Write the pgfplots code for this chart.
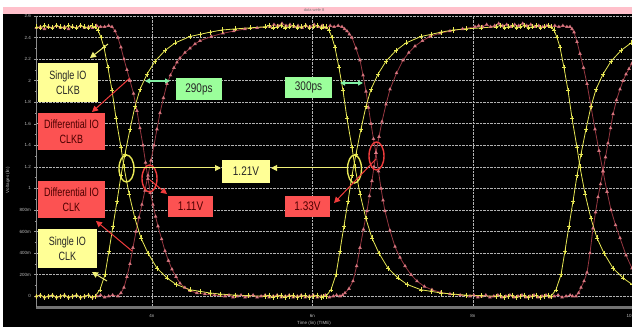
\documentclass[border=0pt]{standalone}
\usepackage{fontspec}
\setmainfont{Liberation Sans}
\newfontfamily\narrowfont[FakeStretch=0.75]{Liberation Sans}
\newfontfamily\numfont[FakeStretch=0.8]{Liberation Sans}
\usepackage{pgfplots}
\pgfplotsset{compat=1.18}
\usetikzlibrary{arrows.meta}

\definecolor{ylw}{RGB}{232,232,85}
\definecolor{redline}{RGB}{150,55,65}
\definecolor{redmark}{RGB}{225,125,135}
\definecolor{boxyel}{RGB}{255,255,150}
\definecolor{boxred}{RGB}{252,82,82}
\definecolor{boxgreen}{RGB}{155,255,155}
\definecolor{arrgreen}{RGB}{130,240,165}
\definecolor{arrred}{RGB}{240,60,60}
\definecolor{arryel}{RGB}{240,240,120}
\definecolor{pinkbar}{RGB}{255,192,203}
\definecolor{ticktext}{RGB}{190,190,190}

\begin{document}
\begin{tikzpicture}
% frame: white page, black scope area, pink title strip
\fill[white] (0pt,0pt) rectangle (632pt,327pt);
\fill[black] (3pt,0pt) rectangle (632pt,313pt);
\fill[pinkbar] (3pt,313pt) rectangle (632pt,320pt);
\node[font=\fontsize{4}{4}\selectfont, text=black!55] at (314pt,316.5pt) {data wele 8};

\begin{axis}[
  at={(36pt,20pt)}, anchor=south west, scale only axis,
  width=597.5pt, height=291pt,
  xmin=2.555, xmax=10.0, ymin=-0.1, ymax=2.6,
  separate axis lines,
  axis x line*=bottom, axis y line*=left,
  x axis line style={line width=3pt, black!55},
  y axis line style={line width=0.5pt, black!45},
  xtick={4,6,8,10}, xticklabels={4n,6n,8n,\makebox[0pt][r]{10\hspace{2pt}}},
  ytick={0,0.2,0.4,0.6,0.8,1,1.2,1.4,1.6,1.8,2,2.2,2.4,2.6},
  yticklabels={0,200m,400m,600m,800m,1,1.2,1.4,1.6,1.8,2,2.2,2.4,2.6},
  minor x tick num=7, minor y tick num=1,
  tick align=outside, major tick length=2pt, minor tick length=1.5pt,
  tick style={black!40, line width=0.4pt},
  ticklabel style={font=\fontsize{4.5}{5}\selectfont, text=ticktext},
  xticklabel style={anchor=center, yshift=-7pt},
  yticklabel style={anchor=east, inner sep=0pt, xshift=-3pt},
  grid=major,
  major grid style={densely dotted, black!30!white, line width=0.6pt},
  clip=true,
]
% Differential IO CLKB
\addplot[redline, line width=0.8pt, mark=triangle*, mark size=1.4pt,
  mark options={fill=redmark, draw=redmark, opacity=0.8}] coordinates {
(2.56,2.49)(2.61,2.50)(2.66,2.48)(2.71,2.50)(2.76,2.49)(2.81,2.51)(2.86,2.49)(2.91,2.50)(2.96,2.48)(3.01,2.50)(3.06,2.49)(3.11,2.51)(3.16,2.49)(3.21,2.50)(3.26,2.49)(3.31,2.51)(3.36,2.50)(3.41,2.50)(3.46,2.51)
(3.502,2.50)(3.540,2.46)(3.576,2.40)(3.613,2.31)(3.651,2.20)(3.688,2.10)(3.726,2.00)(3.770,1.88)(3.813,1.72)(3.850,1.56)(3.888,1.40)(3.920,1.24)(3.950,1.09)(3.980,0.96)(4.012,0.85)(4.045,0.74)(4.075,0.65)(4.120,0.53)(4.162,0.42)(4.205,0.33)(4.249,0.25)(4.300,0.18)(4.349,0.12)(4.410,0.08)(4.474,0.05)(4.560,0.03)(4.660,0.02)(4.780,0.01)(4.910,0.00)
(4.96,0.01)(5.01,-0.01)(5.06,0.00)(5.11,0.01)(5.16,-0.01)(5.21,0.00)(5.26,0.01)(5.31,-0.01)(5.36,0.00)(5.41,0.01)(5.46,-0.01)(5.51,0.00)(5.56,0.01)(5.61,-0.01)(5.66,0.00)(5.71,0.01)(5.76,-0.01)(5.81,0.00)(5.86,0.01)(5.91,-0.01)(5.96,0.00)(6.01,0.01)(6.06,-0.01)(6.11,0.00)(6.16,0.01)(6.21,-0.01)(6.26,0.00)(6.30,0.01)
(6.343,0.00)(6.375,0.01)(6.405,0.03)(6.455,0.07)(6.505,0.14)(6.550,0.28)(6.592,0.45)(6.635,0.62)(6.679,0.79)(6.710,0.93)(6.741,1.07)(6.766,1.20)(6.791,1.33)(6.829,1.48)(6.866,1.62)(6.916,1.78)(6.966,1.92)(7.047,2.07)(7.128,2.19)(7.200,2.26)(7.277,2.32)(7.370,2.37)(7.464,2.41)(7.590,2.44)(7.713,2.46)(7.870,2.48)(8.025,2.50)
(8.07,2.51)(8.12,2.50)(8.17,2.52)(8.22,2.50)(8.27,2.51)(8.32,2.53)(8.37,2.51)(8.42,2.52)(8.47,2.50)(8.52,2.52)(8.57,2.51)(8.62,2.53)(8.67,2.51)(8.72,2.52)(8.77,2.50)(8.82,2.51)(8.87,2.50)(8.92,2.51)(8.97,2.50)(9.02,2.51)(9.07,2.50)(9.12,2.51)(9.17,2.50)
(9.209,2.50)(9.234,2.48)(9.259,2.45)(9.296,2.36)(9.333,2.25)(9.377,2.12)(9.421,1.97)(9.470,1.76)(9.520,1.55)(9.570,1.35)(9.620,1.16)(9.670,0.97)(9.720,0.80)(9.776,0.66)(9.832,0.54)(9.907,0.38)(9.981,0.26)(10.0,0.24)
};
% Differential IO CLK
\addplot[redline, line width=0.8pt, mark=triangle*, mark size=1.4pt,
  mark options={fill=redmark, draw=redmark, opacity=0.8}] coordinates {
(2.56,0.00)(2.61,0.01)(2.66,-0.01)(2.71,0.00)(2.76,0.01)(2.81,-0.01)(2.86,0.00)(2.91,0.01)(2.96,-0.01)(3.01,0.00)(3.06,0.01)(3.11,-0.01)(3.16,0.00)(3.21,0.01)(3.26,-0.01)(3.31,0.00)(3.36,0.01)(3.41,-0.01)(3.46,0.00)(3.51,0.01)
(3.576,0.00)(3.613,0.03)(3.651,0.08)(3.688,0.18)(3.726,0.30)(3.763,0.45)(3.801,0.60)(3.838,0.73)(3.875,0.85)(3.912,0.98)(3.950,1.12)(3.988,1.26)(4.025,1.40)(4.062,1.55)(4.100,1.70)(4.143,1.84)(4.187,1.97)(4.230,2.05)(4.274,2.12)(4.311,2.17)(4.349,2.21)(4.411,2.26)(4.474,2.30)(4.536,2.34)(4.598,2.37)(4.740,2.41)(4.885,2.44)(5.020,2.46)(5.159,2.48)(5.310,2.49)(5.470,2.50)
(5.52,2.52)(5.57,2.51)(5.62,2.53)(5.67,2.51)(5.72,2.52)(5.77,2.50)(5.82,2.51)(5.87,2.49)(5.92,2.51)(5.97,2.50)(6.02,2.52)(6.07,2.50)(6.12,2.51)(6.17,2.49)(6.22,2.51)(6.27,2.50)(6.32,2.51)
(6.368,2.50)(6.400,2.48)(6.430,2.46)(6.460,2.43)(6.492,2.40)(6.542,2.30)(6.592,2.19)(6.630,2.05)(6.667,1.90)(6.698,1.75)(6.729,1.60)(6.760,1.46)(6.791,1.33)(6.822,1.16)(6.854,1.00)(6.879,0.89)(6.903,0.79)(6.965,0.61)(7.028,0.46)(7.090,0.36)(7.153,0.28)(7.228,0.20)(7.302,0.14)(7.395,0.09)(7.489,0.06)(7.600,0.035)(7.713,0.02)(7.840,0.01)(7.963,0.00)
(8.01,0.01)(8.06,-0.01)(8.11,0.00)(8.16,0.01)(8.21,-0.01)(8.26,0.00)(8.31,0.01)(8.36,-0.01)(8.41,0.00)(8.46,0.01)(8.51,-0.01)(8.56,0.00)(8.61,0.01)(8.66,-0.01)(8.71,0.00)(8.76,0.01)(8.81,-0.01)(8.86,0.00)(8.91,0.01)(8.96,-0.01)(9.01,0.00)(9.06,0.01)(9.11,-0.01)(9.16,0.00)(9.21,0.01)(9.24,0.00)
(9.284,0.00)(9.315,0.03)(9.346,0.08)(9.384,0.14)(9.421,0.22)(9.458,0.40)(9.495,0.63)(9.527,0.78)(9.558,0.92)(9.589,1.04)(9.620,1.16)(9.651,1.29)(9.682,1.42)(9.714,1.56)(9.745,1.69)(9.788,1.82)(9.832,1.92)(9.870,2.00)(9.907,2.06)(9.944,2.11)(9.981,2.16)(10.0,2.18)
};
% Single IO CLKB
\addplot[ylw, line width=0.8pt, mark=+, mark size=1.7pt,
  mark options={yscale=1.5, line width=0.5pt}] coordinates {
(2.56,2.50)(2.61,2.49)(2.66,2.51)(2.71,2.50)(2.76,2.49)(2.81,2.51)(2.86,2.50)(2.91,2.49)(2.96,2.51)(3.01,2.50)(3.06,2.49)(3.11,2.51)(3.16,2.50)(3.21,2.49)(3.25,2.51)
(3.290,2.50)(3.327,2.47)(3.365,2.40)(3.402,2.31)(3.452,2.12)(3.502,1.91)(3.552,1.65)(3.614,1.38)(3.651,1.20)(3.714,0.95)(3.788,0.72)(3.863,0.54)(3.950,0.40)(4.063,0.26)(4.187,0.17)(4.299,0.11)(4.474,0.06)(4.60,0.045)(4.723,0.03)(4.85,0.02)(5.035,0.01)(5.20,0.005)(5.408,0.00)
(5.46,0.01)(5.51,-0.01)(5.56,0.00)(5.61,0.01)(5.66,-0.01)(5.71,0.00)(5.76,0.01)(5.81,-0.01)(5.86,0.00)(5.91,0.01)(5.96,-0.01)(6.01,0.00)(6.06,0.01)(6.11,-0.01)(6.14,0.00)
(6.168,0.00)(6.230,0.06)(6.293,0.20)(6.342,0.42)(6.392,0.65)(6.442,0.88)(6.492,1.12)(6.542,1.32)(6.604,1.55)(6.666,1.76)(6.729,1.92)(6.816,2.06)(6.916,2.18)(7.040,2.28)(7.165,2.35)(7.352,2.41)(7.48,2.43)(7.601,2.45)(7.75,2.47)(7.913,2.48)(8.10,2.49)(8.286,2.50)
(8.34,2.51)(8.39,2.49)(8.44,2.50)(8.49,2.51)(8.54,2.49)(8.59,2.50)(8.64,2.51)(8.69,2.49)(8.74,2.50)(8.79,2.51)(8.84,2.49)(8.89,2.50)(8.94,2.51)
(8.972,2.50)(9.009,2.47)(9.047,2.40)(9.084,2.31)(9.134,2.12)(9.184,1.91)(9.234,1.65)(9.296,1.38)(9.333,1.20)(9.396,0.95)(9.470,0.72)(9.545,0.54)(9.632,0.40)(9.745,0.26)(9.869,0.17)(9.981,0.11)(10.0,0.10)
};
% Single IO CLK
\addplot[ylw, line width=0.8pt, mark=+, mark size=1.7pt,
  mark options={yscale=1.5, line width=0.5pt}] coordinates {
(2.56,0.00)(2.61,0.01)(2.66,-0.01)(2.71,0.00)(2.76,0.01)(2.81,-0.01)(2.86,0.00)(2.91,0.01)(2.96,-0.01)(3.01,0.00)(3.06,0.01)(3.11,-0.01)(3.16,0.00)(3.21,0.01)(3.25,-0.01)
(3.290,0.00)(3.352,0.06)(3.415,0.20)(3.464,0.42)(3.514,0.65)(3.564,0.88)(3.614,1.12)(3.664,1.32)(3.726,1.55)(3.788,1.76)(3.851,1.92)(3.938,2.06)(4.038,2.18)(4.162,2.28)(4.287,2.35)(4.474,2.41)(4.60,2.43)(4.723,2.45)(4.87,2.47)(5.035,2.48)(5.22,2.49)(5.408,2.50)
(5.46,2.51)(5.51,2.49)(5.56,2.50)(5.61,2.51)(5.66,2.49)(5.71,2.50)(5.76,2.51)(5.81,2.49)(5.86,2.50)(5.91,2.51)(5.96,2.49)(6.01,2.50)(6.06,2.51)(6.11,2.49)(6.14,2.50)
(6.168,2.50)(6.205,2.47)(6.243,2.40)(6.280,2.31)(6.330,2.12)(6.380,1.91)(6.430,1.65)(6.492,1.38)(6.529,1.20)(6.592,0.95)(6.666,0.72)(6.741,0.54)(6.828,0.40)(6.941,0.26)(7.065,0.17)(7.177,0.11)(7.352,0.06)(7.48,0.045)(7.601,0.03)(7.75,0.02)(7.913,0.01)(8.10,0.005)(8.286,0.00)
(8.34,0.01)(8.39,-0.01)(8.44,0.00)(8.49,0.01)(8.54,-0.01)(8.59,0.00)(8.64,0.01)(8.69,-0.01)(8.74,0.00)(8.79,0.01)(8.84,-0.01)(8.89,0.00)(8.94,0.01)
(8.972,0.00)(9.034,0.06)(9.097,0.20)(9.146,0.42)(9.196,0.65)(9.246,0.88)(9.296,1.12)(9.346,1.32)(9.408,1.55)(9.470,1.76)(9.533,1.92)(9.620,2.06)(9.720,2.18)(9.844,2.28)(9.969,2.35)(10.0,2.36)
};
\end{axis}

% axis titles
\node[font=\fontsize{4.5}{5}\selectfont, text=ticktext] at (314pt,4pt) {Time (lin) (TIME)};
\node[font=\fontsize{4.5}{5}\selectfont, text=ticktext, rotate=90] at (8pt,147pt) {Voltages (lin)};

% crossing markers
\draw[ylw, line width=1.4pt] (126.5pt,158.5pt) ellipse [x radius=7.5pt, y radius=13.5pt];
\draw[arrred, line width=1.4pt] (149.5pt,148.5pt) ellipse [x radius=7.5pt, y radius=13.5pt];
\draw[ylw, line width=1.4pt] (354.5pt,158pt) ellipse [x radius=7pt, y radius=14pt];
\draw[arrred, line width=1.4pt] (376.5pt,171pt) ellipse [x radius=7.5pt, y radius=14pt];

% pointers
\tikzset{ptr/.style={line width=1pt, -{Triangle[length=6pt,width=6pt]}}}
\draw[ptr, arryel] (133.5pt,159pt) -- (221pt,159pt);
\draw[ptr, arryel] (347.5pt,159pt) -- (271pt,159pt);
\draw[ptr, arrred] (150pt,147pt) -- (167pt,133pt);
\draw[ptr, arrred] (376pt,168pt) -- (334pt,124pt);
\draw[line width=1.2pt, arrgreen, {Triangle[length=5pt,width=5pt]}-{Triangle[length=5pt,width=5pt]}] (145pt,246pt) -- (170pt,246pt);
\draw[line width=1.2pt, arrgreen, {Triangle[length=5pt,width=5pt]}-{Triangle[length=5pt,width=5pt]}] (340pt,244pt) -- (363pt,244pt);
\draw[ptr, arryel] (108pt,283pt) -- (90pt,269pt);
\draw[ptr, arrred] (130pt,249pt) -- (92pt,215pt);
\draw[ptr, arrred] (132pt,76pt) -- (96pt,106pt);
\draw[ptr, arryel] (107pt,46pt) -- (92pt,55pt);

% label boxes
\tikzset{lbl/.style={inner sep=0pt, align=center, font=\narrowfont\fontsize{12}{15}\selectfont},
         num/.style={inner sep=0pt, font=\numfont\fontsize{12.5}{14}\selectfont}}
\node[lbl, fill=boxyel, text=black!85, minimum width=60pt, minimum height=39pt] at (68pt,244.5pt) {Single IO\\CLKB};
\node[lbl, fill=boxred, text=black!70!red, minimum width=67pt, minimum height=37pt] at (71.5pt,195.5pt) {Differential IO\\CLKB};
\node[lbl, fill=boxred, text=black!70!red, minimum width=67pt, minimum height=37pt] at (71.5pt,127.5pt) {Differential IO\\CLK};
\node[lbl, fill=boxyel, text=black!85, minimum width=59pt, minimum height=39pt] at (67.5pt,78.5pt) {Single IO\\CLK};
\node[num, fill=boxgreen, text=black!85, minimum width=46pt, minimum height=22pt] at (199pt,238pt) {290ps};
\node[num, fill=boxgreen, text=black!85, minimum width=47pt, minimum height=21pt] at (308.5pt,239.5pt) {300ps};
\node[num, fill=boxyel, text=black!85, minimum width=48pt, minimum height=23pt] at (246pt,155.5pt) {1.21V};
\node[num, fill=boxred, text=black!70!red, minimum width=45pt, minimum height=21pt] at (190.5pt,120.5pt) {1.11V};
\node[num, fill=boxred, text=black!70!red, minimum width=45pt, minimum height=21pt] at (307.5pt,120.5pt) {1.33V};

\pgfresetboundingbox
\path[use as bounding box] (0pt,0pt) rectangle (632pt,327pt);
\end{tikzpicture}
\end{document}
